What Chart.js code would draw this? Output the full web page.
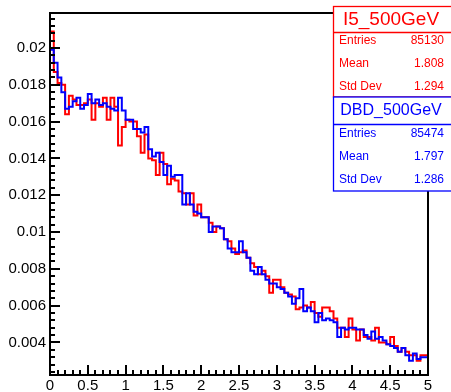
<!DOCTYPE html>
<html>
<head>
<meta charset="utf-8">
<script src="https://cdn.jsdelivr.net/npm/chart.js@4.4.1/dist/chart.umd.min.js"></script>
<style>
  html,body{margin:0;padding:0;background:#fff;}
  #wrap{width:451px;height:392px;}
</style>
</head>
<body>
<div id="wrap"><canvas id="histo" width="451" height="392"></canvas></div>
<script>
// binning: 100 bins from 0 to 5
const nBins = 100, xLow = 0, xHigh = 5;
const yMin = 0.00223, yMax = 0.0219;
const xTicks = [0,0.5,1,1.5,2,2.5,3,3.5,4,4.5,5];
const yTicks = [0.004,0.006,0.008,0.01,0.012,0.014,0.016,0.018,0.02];

// I5_500GeV (red)
const i5Vals = [
  0.0111,0.0209,0.0187,0.0181,0.0180,0.0164,0.0174,0.0172,0.0169,0.0169,
  0.0170,0.0172,0.0161,0.0170,0.0168,0.0173,0.0161,0.0173,0.0168,0.0147,
  0.0157,0.0161,0.0160,0.0160,0.0152,0.0143,0.0153,0.0140,0.0139,0.0131,
  0.0143,0.0137,0.0126,0.0129,0.0128,0.0122,0.0121,0.0115,0.0121,0.0109,
  0.0115,0.0108,0.0108,0.0105,0.0100,0.0103,0.0102,0.0096,0.0095,0.0091,
  0.0088,0.0089,0.0090,0.0086,0.0083,0.0081,0.0077,0.0079,0.0076,0.0067,
  0.0074,0.0074,0.0070,0.0067,0.0066,0.0065,0.0058,0.0059,0.0060,0.0059,
  0.0062,0.0056,0.0054,0.0059,0.0059,0.0057,0.0053,0.0048,0.0048,0.0043,
  0.0053,0.0047,0.0041,0.0047,0.0043,0.0043,0.0041,0.0048,0.0040,0.0040,
  0.0039,0.0043,0.0038,0.0035,0.0037,0.0035,0.0033,0.0033,0.0030,0.0033
];
// DBD_500GeV (blue)
const dbdVals = [
  0.0105,0.0199,0.0192,0.0184,0.0176,0.0167,0.0168,0.0171,0.0173,0.0167,
  0.0169,0.0175,0.0170,0.0172,0.0169,0.0170,0.0168,0.0167,0.0166,0.0173,
  0.0166,0.0161,0.0161,0.0156,0.0156,0.0154,0.0157,0.0145,0.0141,0.0143,
  0.0138,0.0131,0.0136,0.0130,0.0131,0.0131,0.0115,0.0121,0.0115,0.0111,
  0.0110,0.0108,0.0108,0.0100,0.0103,0.0103,0.0102,0.0096,0.0091,0.0089,
  0.0089,0.0095,0.0089,0.0086,0.0079,0.0077,0.0081,0.0077,0.0074,0.0072,
  0.0072,0.0070,0.0069,0.0067,0.0065,0.0061,0.0064,0.0069,0.0057,0.0059,
  0.0057,0.0051,0.0056,0.0052,0.0053,0.0052,0.0051,0.0043,0.0048,0.0047,
  0.0048,0.0048,0.0047,0.0047,0.0044,0.0042,0.0046,0.0042,0.0043,0.0041,
  0.0039,0.0038,0.0037,0.0035,0.0037,0.0033,0.0030,0.0034,0.0031,0.0032
];

const statNames = ['Entries','Mean','Std Dev'];
const i5Stats = ['85130','1.808','1.294'];
const dbdStats = ['85474','1.797','1.286'];

const RED = '#ff0000', BLUE = '#0000ff';
const FONT = '"Liberation Sans", Arial, Helvetica, sans-serif';

function stepPoints(vals){
  const w = (xHigh - xLow) / nBins;
  const pts = vals.map((v,i)=>({x: xLow + i*w, y: v}));
  pts.push({x: xHigh, y: vals[vals.length-1]});
  return pts;
}

// ROOT-like frame, inside ticks and the two stat boxes
const rootDeco = {
  id:'rootDeco',
  afterDatasetsDraw(chart){
    const {ctx, chartArea:a, scales:{x, y}} = chart;
    ctx.save();
    ctx.strokeStyle = '#000';
    ctx.lineWidth = 2;
    ctx.beginPath();
    // y ticks
    for(let k=0;;k++){
      const v = Math.ceil(yMin/0.0004)*0.0004 + k*0.0004;
      if(v > yMax) break;
      const py = Math.round(y.getPixelForValue(v));
      const major = Math.abs(v/0.002 - Math.round(v/0.002)) < 1e-6;
      ctx.moveTo(a.left, py); ctx.lineTo(a.left + (major?10:5), py);
    }
    // x ticks
    for(let k=0;k<=50;k++){
      const v = k*0.1;
      const px = Math.round(x.getPixelForValue(v));
      const major = k%5===0;
      ctx.moveTo(px, a.bottom); ctx.lineTo(px, a.bottom - (major?10:5));
    }
    ctx.stroke();
    ctx.strokeRect(a.left, a.top, a.right-a.left, a.bottom-a.top);

    function box(top, bottom, sepY, titleY, rowYs, color, title, tsize, vals){
      const left = 333.5, right = 452;
      ctx.fillStyle = '#fff';
      ctx.fillRect(left, top, right-left, bottom-top);
      ctx.strokeStyle = color; ctx.lineWidth = 1.3;
      ctx.strokeRect(left, top, right-left, bottom-top);
      ctx.beginPath(); ctx.moveTo(left, sepY); ctx.lineTo(right, sepY); ctx.stroke();
      ctx.fillStyle = color;
      ctx.textBaseline = 'middle';
      ctx.textAlign = 'center';
      ctx.font = tsize + 'px ' + FONT;
      ctx.fillText(title, 391, titleY);
      ctx.font = '12px ' + FONT;
      statNames.forEach((n,i)=>{
        ctx.textAlign = 'left'; ctx.fillText(n, 339, rowYs[i]);
        ctx.textAlign = 'right'; ctx.fillText(vals[i], 444, rowYs[i]);
      });
    }
    box(6.5, 97, 32.5, 19.5, [41, 64, 87], RED, 'I5_500GeV', 19, i5Stats);
    box(97, 191, 124.5, 111, [133.5, 156.5, 179.5], BLUE, 'DBD_500GeV', 16, dbdStats);
    ctx.restore();
  }
};

new Chart(document.getElementById('histo'), {
  type:'line',
  data:{
    datasets:[
      {label:'DBD_500GeV', data: stepPoints(dbdVals), borderColor: BLUE, borderWidth:2,
       stepped:'after', pointRadius:0, fill:false, order:0},
      {label:'I5_500GeV', data: stepPoints(i5Vals), borderColor: RED, borderWidth:2,
       stepped:'after', pointRadius:0, fill:false, order:1}
    ]
  },
  options:{
    responsive:false,
    animation:false,
    layout:{ padding:{ left:0, right:23, top:5, bottom:0 } },
    plugins:{ legend:{display:false}, tooltip:{enabled:false} },
    scales:{
      x:{
        type:'linear', min:xLow, max:xHigh,
        grid:{display:false, drawTicks:false}, border:{display:false},
        afterBuildTicks: s => { s.ticks = xTicks.map(v=>({value:v})); },
        afterFit: s => { s.height = 17; },
        ticks:{ color:'#000', padding:2, maxRotation:0, autoSkip:false,
          font:{family:FONT, size:15}, callback: v => String(v) }
      },
      y:{
        type:'linear', min:yMin, max:yMax,
        grid:{display:false, drawTicks:false}, border:{display:false},
        afterBuildTicks: s => { s.ticks = yTicks.map(v=>({value:v})); },
        afterFit: s => { s.width = 50; },
        ticks:{ color:'#000', padding:4, autoSkip:false,
          font:{family:FONT, size:15}, callback: v => String(+v.toFixed(3)) }
      }
    }
  },
  plugins:[rootDeco]
});
</script>
</body>
</html>
